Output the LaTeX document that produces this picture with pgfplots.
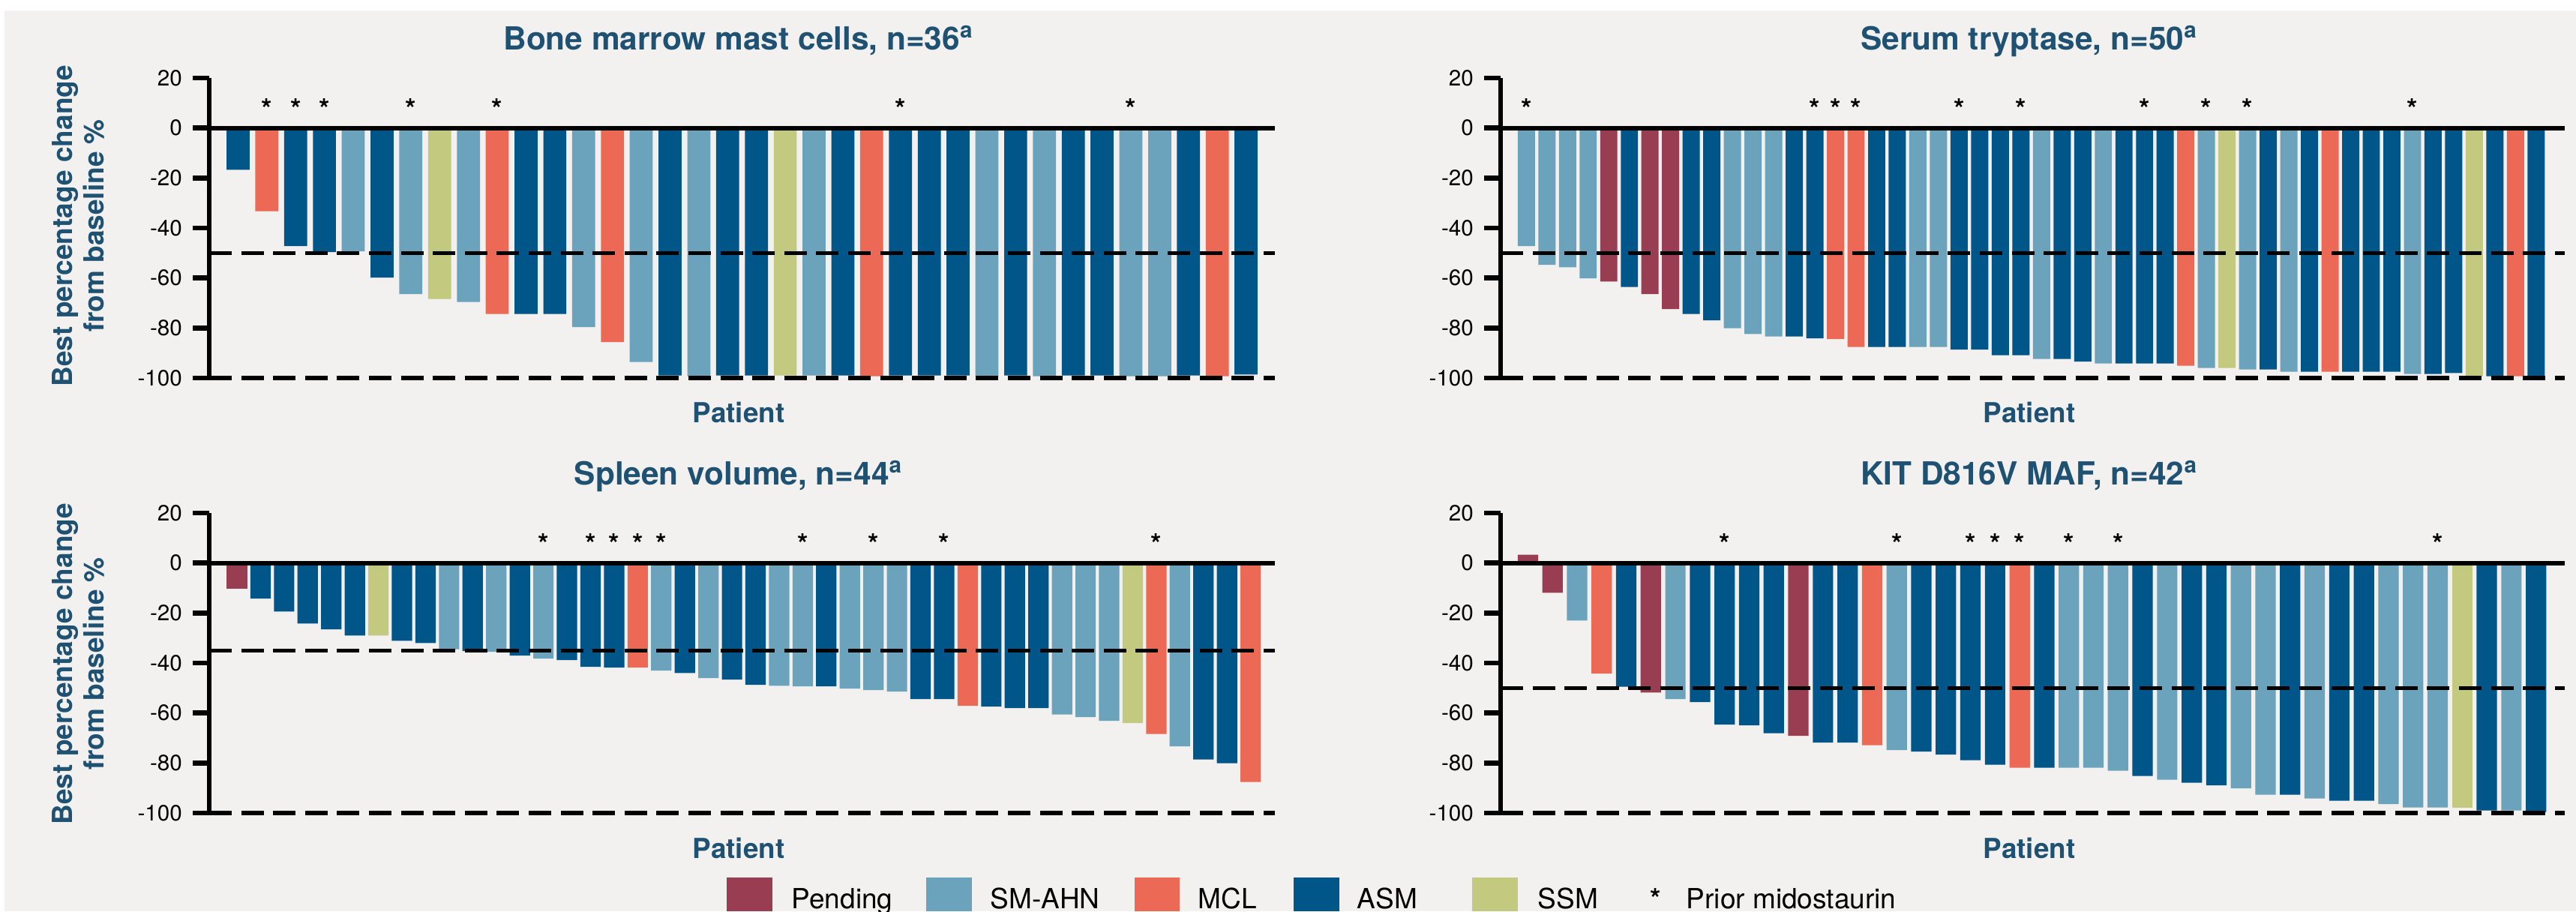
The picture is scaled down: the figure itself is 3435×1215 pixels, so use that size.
\documentclass[border=0pt]{standalone}
\usepackage{pgfplots}
\pgfplotsset{compat=1.18}
\usepackage{pgfplotstable}
\usepackage{fontspec}
\setmainfont{TeX Gyre Heros}
\definecolor{cPend}{RGB}{153,61,82}
\definecolor{cSMAHN}{RGB}{108,163,188}
\definecolor{cMCL}{RGB}{236,106,85}
\definecolor{cASM}{RGB}{0,85,137}
\definecolor{cSSM}{RGB}{195,202,127}
\definecolor{ttl}{RGB}{31,82,114}
\definecolor{bg}{RGB}{242,241,239}
\newcommand\tickfont{\fontsize{7.4pt}{8.8pt}\selectfont}
\newcommand\legfont{\fontsize{9.25pt}{11pt}\selectfont}
\newcommand\ttlfont{\fontsize{10.6pt}{12.7pt}\selectfont\bfseries}
\newcommand\patfont{\fontsize{9.2pt}{11pt}\selectfont\bfseries}
\newcommand\ylabfont{\fontsize{9.25pt}{10.5pt}\selectfont\bfseries}

% classes: 0 Pending, 1 SM-AHN, 2 MCL, 3 ASM, 4 SSM ; s = prior midostaurin
\pgfplotstableread{
x y c s
1 -16.7 3 0
2 -33.3 2 1
3 -47.2 3 1
4 -49.6 3 1
5 -49.3 1 0
6 -59.8 3 0
7 -66.4 1 1
8 -68.4 4 0
9 -69.6 1 0
10 -74.4 2 1
11 -74.4 3 0
12 -74.4 3 0
13 -79.6 1 0
14 -85.6 2 0
15 -93.6 1 0
16 -99.0 3 0
17 -99.3 1 0
18 -99.0 3 0
19 -99.0 3 0
20 -99.0 4 0
21 -99.0 1 0
22 -99.0 3 0
23 -99.3 2 0
24 -99.0 3 1
25 -99.0 3 0
26 -99.0 3 0
27 -99.3 1 0
28 -99.0 3 0
29 -99.3 1 0
30 -99.0 3 0
31 -99.0 3 0
32 -99.3 1 1
33 -99.3 1 0
34 -99.0 3 0
35 -99.3 2 0
36 -98.6 3 0
}\tabBM

\pgfplotstableread{
x y c s
1 -47.2 1 1
2 -54.7 1 0
3 -55.7 1 0
4 -60.1 1 0
5 -61.4 0 0
6 -63.6 3 0
7 -66.4 0 0
8 -72.4 0 0
9 -74.4 3 0
10 -76.9 3 0
11 -80.1 1 0
12 -82.4 1 0
13 -83.4 1 0
14 -83.4 3 0
15 -84.1 3 1
16 -84.4 2 1
17 -87.6 2 1
18 -87.6 3 0
19 -87.6 3 0
20 -87.6 1 0
21 -87.6 1 0
22 -88.6 3 1
23 -88.6 3 0
24 -90.9 3 0
25 -90.9 3 1
26 -92.4 1 0
27 -92.4 3 0
28 -93.4 3 0
29 -94.2 1 0
30 -94.2 3 0
31 -94.2 3 1
32 -94.2 3 0
33 -95.1 2 0
34 -96.0 1 1
35 -96.0 4 0
36 -96.6 1 1
37 -96.6 3 0
38 -97.5 1 0
39 -97.5 3 0
40 -97.5 2 0
41 -97.5 3 0
42 -97.5 3 0
43 -97.5 3 0
44 -98.4 1 1
45 -98.4 3 0
46 -98.0 3 0
47 -99.3 4 0
48 -99.3 3 0
49 -99.3 2 0
50 -99.3 3 0
}\tabST

\pgfplotstableread{
x y c s
1 -10.4 0 0
2 -14.2 3 0
3 -19.4 3 0
4 -24.2 3 0
5 -26.5 3 0
6 -29.0 3 0
7 -29.0 4 0
8 -31.1 3 0
9 -32.0 3 0
10 -34.5 1 0
11 -35.2 3 0
12 -35.5 1 0
13 -37.0 3 0
14 -38.2 1 1
15 -38.8 3 0
16 -41.5 3 1
17 -41.8 3 1
18 -41.8 2 1
19 -43.0 1 1
20 -44.0 3 0
21 -46.0 1 0
22 -46.6 3 0
23 -48.7 3 0
24 -49.1 1 0
25 -49.3 1 1
26 -49.3 3 0
27 -50.2 1 0
28 -50.8 1 1
29 -51.4 1 0
30 -54.4 3 0
31 -54.4 3 1
32 -57.1 2 0
33 -57.4 3 0
34 -58.0 3 0
35 -58.0 3 0
36 -60.6 1 0
37 -61.6 1 0
38 -63.1 1 0
39 -64.0 4 0
40 -68.4 2 1
41 -73.3 1 0
42 -78.6 3 0
43 -80.1 3 0
44 -87.6 2 0
}\tabSV

\pgfplotstableread{
x y c s
1 3.3 0 0
2 -11.9 0 0
3 -23.0 1 0
4 -44.2 2 0
5 -49.5 3 0
6 -51.8 0 0
7 -54.4 1 0
8 -55.6 3 0
9 -64.6 3 1
10 -64.9 3 0
11 -68.1 3 0
12 -69.1 0 0
13 -71.8 3 0
14 -71.8 3 0
15 -72.9 2 0
16 -74.8 1 1
17 -75.4 3 0
18 -76.6 3 0
19 -78.9 3 1
20 -80.7 3 1
21 -81.9 2 1
22 -81.9 3 0
23 -81.9 1 1
24 -81.9 1 0
25 -83.1 1 1
26 -85.2 3 0
27 -86.7 1 0
28 -87.9 3 0
29 -88.9 3 0
30 -90.1 1 0
31 -92.7 1 0
32 -92.7 3 0
33 -94.2 1 0
34 -95.1 3 0
35 -95.1 3 0
36 -96.4 1 0
37 -97.8 1 0
38 -97.8 1 1
39 -97.8 4 0
40 -99.0 3 0
41 -99.0 1 0
42 -99.6 3 0
}\tabKIT

\tikzset{
  refdash/.style={line width=1.35pt, dash pattern=on 7.5pt off 3.15pt},
  zline/.style={line width=1.5pt},
}
\pgfplotsset{
  wf/.style={
    scale only axis, height=100pt,
    ymin=-100, ymax=20,
    axis y line=left, axis x line=none,
    axis line style={-, line width=1.6pt, black},
    ytick={-100,-80,-60,-40,-20,0,20},
    tick align=outside, major tick length=5.5pt,
    every tick/.style={black, line width=1.6pt},
    yticklabel style={font=\tickfont},
    /pgf/number format/assume math mode=true,
    clip=false,
    anchor=south west,
  },
  cls/.style={ybar, bar shift=0pt, draw=none, forget plot},
  star/.style={only marks, mark=text, text mark={\legfont\bfseries *}, forget plot},
}

\begin{document}
\begin{tikzpicture}[x=0.25pt,y=0.25pt]
\fill[white] (0,0) rectangle (3435,1215);
\fill[bg] (6,0) rectangle (3435,1201);

% ---------- Bone marrow mast cells ----------
\begin{axis}[wf, at={(69.75pt,177.75pt)}, width=355.25pt, xmin=0, xmax=37]
\addplot[cls, bar width=0.8, fill=cSMAHN] table[x=x,y=y,restrict expr to domain={\thisrow{c}}{1:1}]{\tabBM};
\addplot[cls, bar width=0.8, fill=cMCL] table[x=x,y=y,restrict expr to domain={\thisrow{c}}{2:2}]{\tabBM};
\addplot[cls, bar width=0.8, fill=cASM] table[x=x,y=y,restrict expr to domain={\thisrow{c}}{3:3}]{\tabBM};
\addplot[cls, bar width=0.8, fill=cSSM] table[x=x,y=y,restrict expr to domain={\thisrow{c}}{4:4}]{\tabBM};
\draw[zline] (axis cs:0,0) -- (axis cs:37,0);
\draw[refdash] (axis cs:0,-50) -- (axis cs:37,-50);
\draw[refdash] (axis cs:0,-100) -- (axis cs:37,-100);
\addplot[star] table[x=x, y expr=7.6, restrict expr to domain={\thisrow{s}}{1:1}]{\tabBM};
\end{axis}

% ---------- Serum tryptase ----------
\begin{axis}[wf, at={(500.25pt,177.75pt)}, width=354.75pt, xmin=-0.248, xmax=51.39]
\addplot[cls, bar width=0.835, fill=cPend] table[x=x,y=y,restrict expr to domain={\thisrow{c}}{0:0}]{\tabST};
\addplot[cls, bar width=0.835, fill=cSMAHN] table[x=x,y=y,restrict expr to domain={\thisrow{c}}{1:1}]{\tabST};
\addplot[cls, bar width=0.835, fill=cMCL] table[x=x,y=y,restrict expr to domain={\thisrow{c}}{2:2}]{\tabST};
\addplot[cls, bar width=0.835, fill=cASM] table[x=x,y=y,restrict expr to domain={\thisrow{c}}{3:3}]{\tabST};
\addplot[cls, bar width=0.835, fill=cSSM] table[x=x,y=y,restrict expr to domain={\thisrow{c}}{4:4}]{\tabST};
\draw[zline] (axis cs:-0.248,0) -- (axis cs:51.39,0);
\draw[refdash] (axis cs:-0.248,-50) -- (axis cs:51.39,-50);
\draw[refdash] (axis cs:-0.248,-100) -- (axis cs:51.39,-100);
\addplot[star] table[x=x, y expr=7.6, restrict expr to domain={\thisrow{s}}{1:1}]{\tabST};
\end{axis}

% ---------- Spleen volume ----------
\begin{axis}[wf, at={(69.75pt,32.75pt)}, width=355.25pt, xmin=-0.177, xmax=45.03]
\addplot[cls, bar width=0.865, fill=cPend] table[x=x,y=y,restrict expr to domain={\thisrow{c}}{0:0}]{\tabSV};
\addplot[cls, bar width=0.865, fill=cSMAHN] table[x=x,y=y,restrict expr to domain={\thisrow{c}}{1:1}]{\tabSV};
\addplot[cls, bar width=0.865, fill=cMCL] table[x=x,y=y,restrict expr to domain={\thisrow{c}}{2:2}]{\tabSV};
\addplot[cls, bar width=0.865, fill=cASM] table[x=x,y=y,restrict expr to domain={\thisrow{c}}{3:3}]{\tabSV};
\addplot[cls, bar width=0.865, fill=cSSM] table[x=x,y=y,restrict expr to domain={\thisrow{c}}{4:4}]{\tabSV};
\draw[zline] (axis cs:-0.177,0) -- (axis cs:45.03,0);
\draw[refdash] (axis cs:-0.177,-35) -- (axis cs:45.03,-35);
\draw[refdash] (axis cs:-0.177,-100) -- (axis cs:45.03,-100);
\addplot[star] table[x=x, y expr=7.6, restrict expr to domain={\thisrow{s}}{1:1}]{\tabSV};
\end{axis}

% ---------- KIT D816V MAF ----------
\begin{axis}[wf, at={(500.25pt,32.75pt)}, width=354.75pt, xmin=-0.11, xmax=43.17]
\addplot[cls, bar width=0.83, fill=cPend] table[x=x,y=y,restrict expr to domain={\thisrow{c}}{0:0}]{\tabKIT};
\addplot[cls, bar width=0.83, fill=cSMAHN] table[x=x,y=y,restrict expr to domain={\thisrow{c}}{1:1}]{\tabKIT};
\addplot[cls, bar width=0.83, fill=cMCL] table[x=x,y=y,restrict expr to domain={\thisrow{c}}{2:2}]{\tabKIT};
\addplot[cls, bar width=0.83, fill=cASM] table[x=x,y=y,restrict expr to domain={\thisrow{c}}{3:3}]{\tabKIT};
\addplot[cls, bar width=0.83, fill=cSSM] table[x=x,y=y,restrict expr to domain={\thisrow{c}}{4:4}]{\tabKIT};
\draw[zline] (axis cs:-0.11,0) -- (axis cs:43.17,0);
\draw[refdash] (axis cs:-0.11,-50) -- (axis cs:43.17,-50);
\draw[refdash] (axis cs:-0.11,-100) -- (axis cs:43.17,-100);
\addplot[star] table[x=x, y expr=7.6, restrict expr to domain={\thisrow{s}}{1:1}]{\tabKIT};
\end{axis}

% titles
\node[anchor=base, inner sep=0, text=ttl, font=\ttlfont] at (985,1149) {Bone marrow mast cells, n=36\textsuperscript{a}};
\node[anchor=base, inner sep=0, text=ttl, font=\ttlfont] at (2706,1149) {Serum tryptase, n=50\textsuperscript{a}};
\node[anchor=base, inner sep=0, text=ttl, font=\ttlfont] at (985,569) {Spleen volume, n=44\textsuperscript{a}};
\node[anchor=base, inner sep=0, text=ttl, font=\ttlfont] at (2706,569) {KIT D816V MAF, n=42\textsuperscript{a}};
% Patient
\node[anchor=base, inner sep=0, text=ttl, font=\patfont] at (985,651.5) {Patient};
\node[anchor=base, inner sep=0, text=ttl, font=\patfont] at (2706,651.5) {Patient};
\node[anchor=base, inner sep=0, text=ttl, font=\patfont] at (985,71) {Patient};
\node[anchor=base, inner sep=0, text=ttl, font=\patfont] at (2706,71) {Patient};
% y labels
\node[rotate=90, align=center, inner sep=0, text=ttl, font=\ylabfont] at (104,914) {Best percentage change\\from baseline \%};
\node[rotate=90, align=center, inner sep=0, text=ttl, font=\ylabfont] at (104,330) {Best percentage change\\from baseline \%};
% legend
\fill[cPend] (969,0) rectangle (1030,45);
\node[anchor=base west, inner sep=0, font=\legfont] at (1055,3.3) {Pending};
\fill[cSMAHN] (1235,0) rectangle (1296,45);
\node[anchor=base west, inner sep=0, font=\legfont] at (1320,3.3) {SM-AHN};
\fill[cMCL] (1513,0) rectangle (1573,45);
\node[anchor=base west, inner sep=0, font=\legfont] at (1597,3.3) {MCL};
\fill[cASM] (1725,0) rectangle (1786,45);
\node[anchor=base west, inner sep=0, font=\legfont] at (1809,3.3) {ASM};
\fill[cSSM] (1963,0) rectangle (2024,45);
\node[anchor=base west, inner sep=0, font=\legfont] at (2050,3.3) {SSM};
\node[anchor=base west, inner sep=0, font=\legfont\bfseries] at (2200,3.3) {*};
\node[anchor=base west, inner sep=0, font=\legfont] at (2248,3.3) {Prior midostaurin};
\pgfresetboundingbox
\useasboundingbox (0,0) rectangle (3435,1215);
\end{tikzpicture}
\end{document}
